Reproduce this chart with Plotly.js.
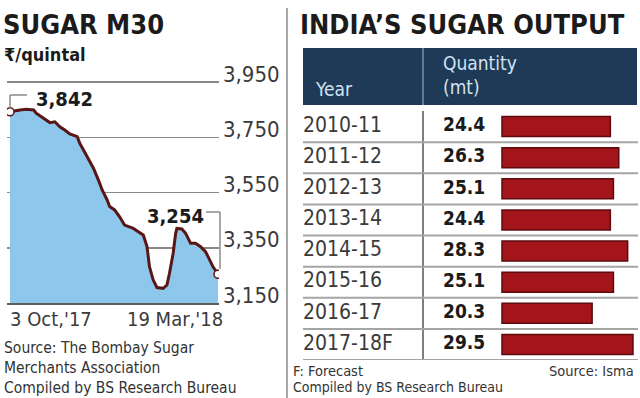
<!DOCTYPE html>
<html><head><meta charset="utf-8">
<script src="https://cdn.plot.ly/plotly-3.0.1.min.js"></script>
<style>html,body{margin:0;padding:0;background:#fff}#c{width:640px;height:398px}</style>
</head><body><div id="c"></div>
<script>
// ---- data ----
const days = [0,4,8,13,19,21,27,32,36,40,44,48,54,56,59,63,67,71,74,78,80,84,88,92,95,99,103,107,110,112,115,118,123,126,128,131,133,134,138,141,145,149,153,157,159,163,167];
const prices = [3842,3846,3849,3851,3849,3837,3819,3803,3806,3788,3776,3762,3752,3728,3704,3668,3638,3595,3559,3523,3499,3487,3462,3432,3426,3420,3408,3396,3354,3281,3233,3206,3203,3215,3257,3330,3402,3420,3418,3402,3366,3366,3354,3336,3318,3281,3254];
const priceTicks = [3150,3350,3550,3750,3950];
const xTickLabels = ["3 Oct,'17", "19 Mar,'18"];
const years = ["2010-11","2011-12","2012-13","2013-14","2014-15","2015-16","2016-17","2017-18F"];
const output = [24.4,26.3,25.1,24.4,28.3,25.1,20.3,29.5];

// ---- helpers ----
const W = 640, H = 398;
const PX = x => x / W, PY = y => 1 - y / H;
const FN = '"Liberation Sans Narrow","DejaVu Sans Condensed","Noto Sans",sans-serif';
const dark = '#1b1b1b', txt = '#333';
function ann(text, x, y, size, o) {
  o = o || {};
  return Object.assign({text, x: PX(x), y: PY(y), xref: 'paper', yref: 'paper',
    xanchor: 'left', yanchor: 'middle', showarrow: false,
    font: {family: FN, size, color: o.color || txt, weight: o.weight || 'normal'}}, o.extra || {});
}
function line(x0, y0, x1, y1, color, width) {
  return {type: 'line', xref: 'paper', yref: 'paper', x0: PX(x0), y0: PY(y0), x1: PX(x1), y1: PY(y1),
    line: {color, width}};
}
const fmt = v => v.toLocaleString('en-US');
const last = days.length - 1;

// x2 axis scale: zero at x=502px, 4.44 px per unit, domain 303..638
const X2L = 303, X2R = 638, Z = 502, S = 4.44;
const x2range = [(X2L - Z) / S, (X2R - Z) / S];

const traces = [
  {type: 'scatter', x: days, y: prices, mode: 'lines', fill: 'tozeroy', fillcolor: '#8dc8ec',
   line: {color: '#5a1515', width: 3}, xaxis: 'x', yaxis: 'y', hoverinfo: 'skip'},
  {type: 'scatter', x: [days[0], days[last]], y: [prices[0], prices[last]], mode: 'markers',
   marker: {color: '#fff', size: 8, line: {color: '#5a1515', width: 1.5}}, xaxis: 'x', yaxis: 'y'},
  {type: 'bar', orientation: 'h', y: years, x: output, width: 0.64,
   marker: {color: '#a3141b', line: {color: '#5e0b0e', width: 1.5}}, xaxis: 'x2', yaxis: 'y2'},
  {type: 'scatter', mode: 'text', y: years, x: years.map(() => x2range[0]), text: years,
   textposition: 'middle right', textfont: {family: FN, size: 21, color: '#3a3a3a'},
   xaxis: 'x2', yaxis: 'y2', cliponaxis: false},
  {type: 'scatter', mode: 'text', y: years, x: years.map(() => (443 - Z) / S), text: output.map(v => v.toFixed(1)),
   textposition: 'middle right', textfont: {family: FN, size: 19, color: dark, weight: 'bold'},
   xaxis: 'x2', yaxis: 'y2', cliponaxis: false}
];

const xscale = 208 / 167;
const pxPer = 55.25 / 200;
const layout = {
  width: W, height: H, margin: {l: 0, r: 0, t: 0, b: 0}, showlegend: false,
  paper_bgcolor: '#fff', plot_bgcolor: 'rgba(0,0,0,0)',
  xaxis: {domain: [PX(7), PX(219)], range: [-3 / xscale, 167 + 1 / xscale], showgrid: false, zeroline: false,
    showticklabels: false, ticks: '', showline: true, linecolor: '#5c5c5c', linewidth: 2, fixedrange: true},
  yaxis: {domain: [PY(303), PY(82 - 4 * pxPer)], range: [3150, 3954], side: 'right', tickvals: priceTicks,
    ticktext: priceTicks.map(fmt), ticks: '', showgrid: true, gridcolor: '#8a8a8a', gridwidth: 1.5,
    zeroline: false, showline: false, ticklabelstandoff: 3, ticklabelshift: -8,
    tickfont: {family: FN, size: 22, color: '#3a3a3a'}, fixedrange: true},
  xaxis2: {domain: [PX(X2L), PX(X2R)], range: x2range, visible: false, fixedrange: true},
  yaxis2: {domain: [PY(360), PY(111)], type: 'category', range: [years.length - 0.5, -0.5], visible: false,
    anchor: 'x2', fixedrange: true},
  shapes: [
    line(287, 8, 287, 398, '#8a8a8a', 1.5),
    // brackets
    line(10, 109, 10, 95, '#8a8a8a', 1.5),
    line(10, 95, 27, 95, '#8a8a8a', 1.5),
    line(206, 212, 220, 212, '#8a8a8a', 1.5),
    line(220, 212, 220, 269, '#8a8a8a', 1.5),
    // table header
    {type: 'rect', xref: 'paper', yref: 'paper', x0: PX(303), x1: PX(637), y0: PY(105), y1: PY(48),
     fillcolor: '#1e3a56', line: {width: 0}},
    line(423, 48, 423, 105, '#7d8fa3', 1.5),
    line(423, 111, 423, 360, '#555', 1.5)
  ].concat(years.map((_, i) => ({type: 'line', xref: 'paper', yref: 'y2', x0: PX(303), x1: PX(638),
     y0: i + 0.5, y1: i + 0.5, line: {color: '#a5a5a5', width: 2}}))),
  annotations: [
    ann('SUGAR M30', 1, 25, 27, {color: dark, weight: 'bold'}),
    ann('₹/quintal', 2, 55, 18, {color: dark, weight: 'bold'}),
    ann("INDIA’S SUGAR OUTPUT", 298, 25, 27, {color: dark, weight: 'bold'}),
    {text: fmt(prices[0]), x: days[0], y: prices[0], xref: 'x', yref: 'y', xanchor: 'left', yanchor: 'middle',
     xshift: 24, yshift: 13, showarrow: false, font: {family: FN, size: 20, color: dark, weight: 'bold'}},
    {text: fmt(prices[last]), x: days[last], y: prices[last], xref: 'x', yref: 'y', xanchor: 'right', yanchor: 'middle',
     xshift: -12, yshift: 58, showarrow: false, font: {family: FN, size: 20, color: dark, weight: 'bold'}},
    {text: xTickLabels[0], x: days[0], xref: 'x', yref: 'paper', y: PY(319), xanchor: 'left', yanchor: 'middle',
     xshift: -2, showarrow: false, font: {family: FN, size: 20, color: '#3a3a3a'}},
    {text: xTickLabels[1], x: days[last], xref: 'x', yref: 'paper', y: PY(319), xanchor: 'right', yanchor: 'middle',
     xshift: 7, showarrow: false, font: {family: FN, size: 20, color: '#3a3a3a'}},
    ann('Source: The Bombay Sugar', 2, 348, 15.5),
    ann('Merchants Association', 2, 368, 15.5),
    ann('Compiled by BS Research Bureau', 2, 388, 15.5),
    ann('Year', 313, 89, 19, {color: '#d2e2f0'}),
    ann('Quantity', 441, 63, 19, {color: '#d2e2f0'}),
    ann('(mt)', 441, 87, 19, {color: '#d2e2f0'}),
    ann('F: Forecast', 291, 371, 14.5),
    ann('Compiled by BS Research Bureau', 291, 387, 14),
    ann('Source: Isma', 636, 371, 14.5, {extra: {xanchor: 'right'}})
  ]
};
Plotly.newPlot('c', traces, layout, {staticPlot: true, displayModeBar: false});
</script></body></html>
